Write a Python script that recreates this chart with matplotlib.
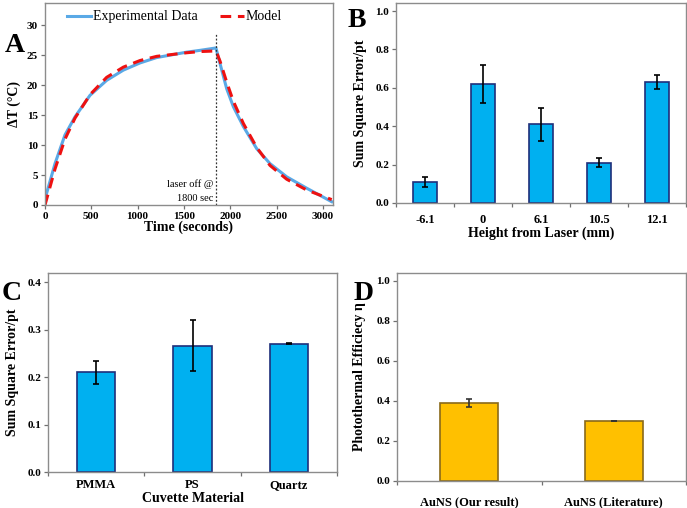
import matplotlib
matplotlib.use("Agg")
import matplotlib.pyplot as plt
import numpy as np

plt.rcParams['font.family'] = ['Liberation Serif', 'DejaVu Serif']

# Panel A: temperature rise
time_exp = [0, 108, 216, 324, 486, 666, 846, 1026, 1206, 1458, 1530, 1674, 1846,
            1890, 1962, 2034, 2142, 2286, 2430, 2610, 2826, 3096]
dT_exp = [1.0, 6.9, 11.7, 14.7, 18.3, 20.8, 22.5, 23.7, 24.6, 25.3, 25.5, 25.8, 26.2,
          23.6, 19.4, 16.4, 13.1, 9.4, 6.9, 4.7, 2.8, 0.55]
time_model = [0, 108, 216, 324, 486, 666, 846, 1026, 1206, 1530, 1674, 1846,
              1890, 1962, 2034, 2142, 2286, 2430, 2610, 2826, 3096]
dT_model = [0.0, 6.0, 11.0, 14.5, 18.4, 21.3, 23.0, 24.1, 24.8, 25.4, 25.6, 25.7,
            24.0, 20.5, 17.3, 13.6, 9.6, 6.6, 4.3, 2.5, 0.9]
laser_off = 1846

# Panel B: error vs height
heights = ['-6.1', '0', '6.1', '10.5', '12.1']
sse_height = [0.11, 0.62, 0.41, 0.21, 0.63]
sse_height_err = [0.025, 0.10, 0.085, 0.025, 0.035]

# Panel C: error vs cuvette material
materials = ['PMMA', 'PS', 'Quartz']
sse_material = [0.21, 0.266, 0.27]
sse_material_err = [0.024, 0.053, 0.001]

# Panel D: photothermal efficiency
sources = ['AuNS (Our result)', 'AuNS (Literature)']
efficiency = [0.39, 0.30]
efficiency_err = [0.018, 0.002]

W, H = 687, 508
FRAME = '#8c8c8c'
BLUE = '#00b0f0'
NAVY = '#1f2f7a'
GOLD = '#ffc000'
BROWN = '#8a6a1a'


def px_axes(fig, left, top, right, bottom):
    return fig.add_axes([left / W, (H - bottom) / H, (right - left) / W, (bottom - top) / H])


def style_frame(ax):
    for s in ax.spines.values():
        s.set_color(FRAME)
        s.set_linewidth(1.0)
    ax.tick_params(axis='both', direction='out', color='#707070', length=3, width=0.9,
                   labelsize=8, pad=2)
    for lab in ax.get_xticklabels() + ax.get_yticklabels():
        lab.set_fontweight('bold')


def category_axis(ax, labels, pad=8):
    n = len(labels)
    ax.set_xlim(-0.5, n - 0.5)
    ax.set_xticks(np.arange(n + 1) - 0.5)
    ax.set_xticklabels([])
    ax.set_xticks(np.arange(n), minor=True)
    ax.set_xticklabels(labels, minor=True, fontweight='bold', fontsize=9)
    ax.tick_params(axis='x', which='minor', length=0, pad=pad)
    ax.tick_params(axis='x', which='major', length=4)


fig = plt.figure(figsize=(W / 100, H / 100), dpi=100)

# ---- A ----
axA = px_axes(fig, 45, 3, 333, 205)
axA.plot(time_exp, dT_exp, color='#5aa9e6', lw=2.2, label='Experimental Data')
axA.plot(time_model, dT_model, color='#ee1111', lw=2.2, ls=(0, (3.5, 2.2)), label='Model')
axA.axvline(laser_off, color='#333333', lw=0.9, ls=(0, (1.5, 1.5)), ymax=0.85)
axA.text(laser_off - 25, 3.5, 'laser off @', ha='right', va='center', fontsize=7.5)
axA.text(laser_off - 25, 1.1, '1800 sec', ha='right', va='center', fontsize=7.5)
axA.set_xlim(0, 3110)
axA.set_ylim(0, 33.7)
axA.set_xticks(np.arange(0, 3001, 500))
axA.set_yticks(np.arange(0, 31, 5))
axA.set_xlabel('Time (seconds)', fontweight='bold', fontsize=10, labelpad=0)
axA.set_ylabel('ΔT (°C)', fontweight='bold', fontsize=10, labelpad=4)
axA.legend(loc='upper center', bbox_to_anchor=(0.45, 1.025), ncol=2, frameon=False,
           fontsize=10, handlelength=1.7, columnspacing=1.6, handletextpad=0.15)
style_frame(axA)
fig.text(5 / W, 1 - 52 / H, 'A', fontsize=20, fontweight='bold')

# ---- B ----
axB = px_axes(fig, 396, 3, 686, 203)
xb = np.arange(len(heights))
axB.bar(xb, sse_height, width=0.42, color=BLUE, edgecolor=NAVY, linewidth=1.2, zorder=2)
axB.errorbar(xb, sse_height, yerr=sse_height_err, fmt='none', ecolor='black',
             elinewidth=1.2, capsize=2.5, capthick=1.2, zorder=3)
category_axis(axB, heights)
axB.set_ylim(0, 1.042)
axB.set_yticks(np.arange(0, 1.01, 0.2))
axB.yaxis.set_major_formatter(matplotlib.ticker.FormatStrFormatter('%.1f'))
axB.set_xlabel('Height from Laser (mm)', fontweight='bold', fontsize=10, labelpad=0)
axB.set_ylabel('Sum Square Error/pt', fontweight='bold', fontsize=10, labelpad=6)
style_frame(axB)
fig.text(348 / W, 1 - 27 / H, 'B', fontsize=20, fontweight='bold')

# ---- C ----
axC = px_axes(fig, 48, 273, 337, 472)
xc = np.arange(len(materials))
axC.bar(xc, sse_material, width=0.4, color=BLUE, edgecolor=NAVY, linewidth=1.2, zorder=2)
axC.errorbar(xc, sse_material, yerr=sse_material_err, fmt='none', ecolor='black',
             elinewidth=1.2, capsize=2.5, capthick=1.2, zorder=3)
category_axis(axC, materials, pad=5)
axC.set_ylim(0, 0.419)
axC.set_yticks(np.arange(0, 0.41, 0.1))
axC.yaxis.set_major_formatter(matplotlib.ticker.FormatStrFormatter('%.1f'))
axC.set_xlabel('Cuvette Material', fontweight='bold', fontsize=10, labelpad=1)
axC.set_ylabel('Sum Square Error/pt', fontweight='bold', fontsize=10, labelpad=6)
style_frame(axC)
fig.text(2 / W, 1 - 300 / H, 'C', fontsize=20, fontweight='bold')

# ---- D ----
axD = px_axes(fig, 397, 273, 686, 481)
xd = np.arange(len(sources))
axD.bar(xd, efficiency, width=0.4, color=GOLD, edgecolor=BROWN, linewidth=1.2, zorder=2)
axD.errorbar(xd, efficiency, yerr=efficiency_err, fmt='none', ecolor='#333333',
             elinewidth=1.2, capsize=2.5, capthick=1.2, zorder=3)
category_axis(axD, sources, pad=11)
axD.set_ylim(0, 1.04)
axD.set_yticks(np.arange(0, 1.01, 0.2))
axD.yaxis.set_major_formatter(matplotlib.ticker.FormatStrFormatter('%.1f'))
axD.set_ylabel('Photothermal Efficiecy η', fontweight='bold', fontsize=10, labelpad=7)
style_frame(axD)
fig.text(354 / W, 1 - 300 / H, 'D', fontsize=20, fontweight='bold')

fig.savefig('out.png', dpi=100)
